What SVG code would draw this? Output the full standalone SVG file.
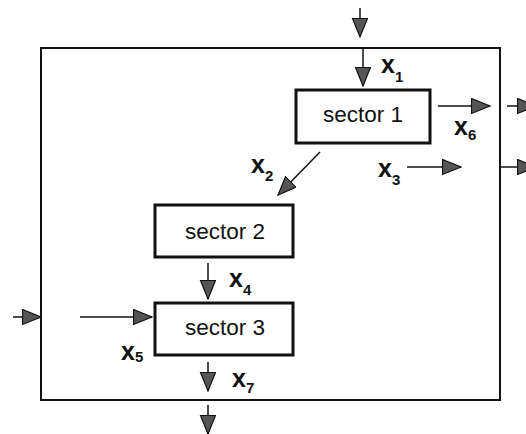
<svg xmlns="http://www.w3.org/2000/svg" width="526" height="434" viewBox="0 0 526 434">
<style>
.box{fill:#fff;stroke:#111;stroke-width:3}
.outer{fill:none;stroke:#111;stroke-width:2}
.lbl{font-family:"Liberation Sans",Arial,sans-serif;font-size:22.5px;fill:#111;text-anchor:middle}
.v{font-family:"Liberation Sans",Arial,sans-serif;font-weight:bold;font-size:25px;fill:#111}
.s{font-size:15px}
.c line{stroke:#111;stroke-width:1.5;marker-end:url(#ah)}
</style>
<defs>
<marker id="ah" markerUnits="userSpaceOnUse" markerWidth="22" markerHeight="18" refX="19" refY="8" orient="auto" viewBox="0 0 22 18">
<path d="M0.5,0.5 L19,8 L0.5,15.5 z" fill="#555" stroke="#111" stroke-width="1.2"/>
</marker>
</defs>
<rect width="526" height="434" fill="#fff"/>
<g id="system"><rect class="outer" x="41" y="48" width="459" height="352"/></g>
<g id="sector1"><rect class="box" x="296" y="90" width="134" height="53"/><text class="lbl" x="363" y="122">sector 1</text></g>
<g id="sector2"><rect class="box" x="155" y="205" width="138" height="52"/><text class="lbl" x="225" y="239">sector 2</text></g>
<g id="sector3"><rect class="box" x="155" y="303" width="138" height="52"/><text class="lbl" x="225" y="335">sector 3</text></g>
<g id="connectors" class="c">
<line x1="360" y1="8" x2="360" y2="37"/>
<line x1="363" y1="48" x2="363" y2="86"/>
<line x1="438" y1="106" x2="490" y2="106"/>
<line x1="507" y1="106" x2="536" y2="106"/>
<line x1="407" y1="167" x2="461" y2="167"/>
<line x1="500" y1="167" x2="536" y2="167"/>
<line x1="320" y1="152" x2="278" y2="195"/>
<line x1="208" y1="263" x2="208" y2="299"/>
<line x1="80" y1="317" x2="152" y2="317"/>
<line x1="13" y1="317" x2="41" y2="317"/>
<line x1="208" y1="362" x2="208" y2="391"/>
<line x1="208" y1="405" x2="208" y2="434"/>
</g>
<g id="labels">
<text class="v" x="381" y="73">x<tspan class="s" dy="9">1</tspan></text>
<text class="v" x="454" y="135">x<tspan class="s" dy="5">6</tspan></text>
<text class="v" x="378" y="177">x<tspan class="s" dy="8">3</tspan></text>
<text class="v" x="251" y="173">x<tspan class="s" dy="8">2</tspan></text>
<text class="v" x="229" y="287">x<tspan class="s" dy="8">4</tspan></text>
<text class="v" x="121" y="360">x<tspan class="s" dy="2">5</tspan></text>
<text class="v" x="232" y="387">x<tspan class="s" dy="6">7</tspan></text>
</g>
</svg>
